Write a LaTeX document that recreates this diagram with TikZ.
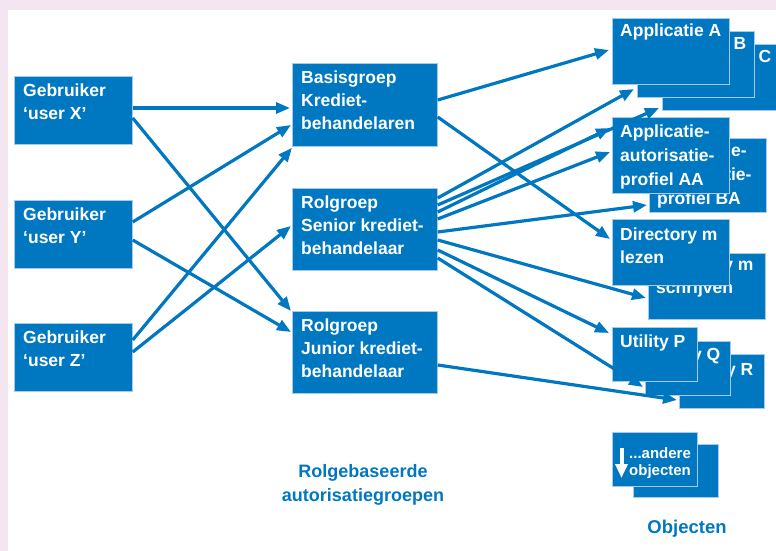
\documentclass[tikz,border=0pt]{standalone}
\usepackage{fontspec}
\setmainfont{Liberation Sans}
\usetikzlibrary{arrows.meta,calc}
\definecolor{rbblue}{RGB}{0,120,193}
\definecolor{rbedge}{RGB}{165,203,233}
\definecolor{rbpink}{RGB}{243,230,240}
\begin{document}
\begin{tikzpicture}[x=1pt,y=-1pt,
  box/.style={rectangle, fill=rbblue, draw=rbedge, line width=0.7pt, anchor=north west, inner sep=0pt},
  userbox/.style={box, minimum width=118, minimum height=68},
  groupbox/.style={box, minimum width=145, minimum height=83},
  objbox/.style={box, minimum width=117, minimum height=66},
  smallbox/.style={box, minimum width=85, minimum height=54},
  % the base anchor of a multi-line text sits on its last line
  txt/.style={anchor=base west, inner sep=0pt, align=left, text=white,
    font=\fontsize{17.5}{23}\selectfont\bfseries},
  smalltxt/.style={txt, font=\fontsize{15}{17}\selectfont\bfseries},
  heading/.style={anchor=base, inner sep=0pt, align=center, text=rbblue,
    font=\fontsize{18}{24}\selectfont\bfseries},
  arr/.style={draw=rbblue, line width=3.2pt, -{Triangle[length=14pt,width=11pt]}},
]
\useasboundingbox (0,0) rectangle (776,551);
\fill[rbpink] (0,0) rectangle (776,551);
\fill[white] (8,10) rectangle (776,551);

% users
\node[userbox] (gx) at (14,76) {};
\node[userbox] (gy) at (14,200) {};
\node[userbox] (gz) at (14,323) {};
\node[txt] (gxt) at ($(gx.north west)+(9,43)$) {Gebruiker\\‘user X’};
\node[txt] (gyt) at ($(gy.north west)+(9,43)$) {Gebruiker\\‘user Y’};
\node[txt] (gzt) at ($(gz.north west)+(9,43)$) {Gebruiker\\‘user Z’};

% role groups
\node[groupbox] (basis) at (292,63) {};
\node[groupbox, minimum height=82] (senior) at (292,188) {};
\node[groupbox, minimum height=82] (junior) at (292,311) {};
\node[txt] (basist) at ($(basis.north west)+(9,66)$) {Basisgroep\\Krediet-\\behandelaren};
\node[txt] (seniort) at ($(senior.north west)+(9,66)$) {Rolgroep\\Senior krediet-\\behandelaar};
\node[txt] (juniort) at ($(junior.north west)+(9,66)$) {Rolgroep\\Junior krediet-\\behandelaar};

% objects: applications
\node[objbox] (appC) at (662,44) {};
\node[txt] (appCt) at ($(appC.north west)+(8,19)$) {Applicatie C};
\node[objbox] (appB) at (637,31) {};
\node[txt] (appBt) at ($(appB.north west)+(8,19)$) {Applicatie B};
\node[objbox] (appA) at (612,18) {};
\node[txt] (appAt) at ($(appA.north west)+(8,19)$) {Applicatie A};

% objects: authorisation profiles
\node[objbox, minimum height=74] (autBA) at (649,138) {};
\node[txt, font=\fontsize{17.5}{24}\selectfont\bfseries] (autBAt) at ($(autBA.north west)+(8,66)$) {Applicatie-\\autorisatie-\\profiel BA};
\node[objbox, minimum height=76] (autAA) at (612,117) {};
\node[txt, font=\fontsize{17.5}{24}\selectfont\bfseries] (autAAt) at ($(autAA.north west)+(8,68)$) {Applicatie-\\autorisatie-\\profiel AA};

% objects: directory
\node[objbox] (dirS) at (648,253) {};
\node[txt] (dirSt) at ($(dirS.north west)+(8,40)$) {Directory m\\schrijven};
\node[objbox] (dirL) at (612,219) {};
\node[txt] (dirLt) at ($(dirL.north west)+(8,44)$) {Directory m\\lezen};

% objects: utilities
\node[smallbox] (utilR) at (679,354) {};
\node[txt] (utilRt) at ($(utilR.north west)+(8,21)$) {Utility R};
\node[smallbox] (utilQ) at (645,341) {};
\node[txt] (utilQt) at ($(utilQ.north west)+(8,19)$) {Utility Q};
\node[smallbox] (utilP) at (612,327) {};
\node[txt] (utilPt) at ($(utilP.north west)+(8,20)$) {Utility P};

% other objects
\node[smallbox, minimum height=53] (andereB) at (633,444) {};
\node[smallbox] (andere) at (612,432) {};
\node[smalltxt] (anderet) at ($(andere.north west)+(17,43)$) {...andere\\objecten};
\coordinate (dnA) at ($(andere.north west)+(9.5,16)$);
\coordinate (dnB) at ($(andere.north west)+(9.5,46)$);
\draw[white, line width=4pt, -{Triangle[length=14pt,width=12pt]}] (dnA) -- (dnB);

% captions
\node[heading] (capgroups) at (363,501) {Rolgebaseerde\\autorisatiegroepen};
\node[heading, font=\fontsize{18.5}{24}\selectfont\bfseries] (capobj) at (687,533) {Objecten};

% users to role groups
\draw[arr] ($(gx.north east)+(0,32)$) -- ($(basis.north west)+(-2,45)$);
\draw[arr] ($(gx.north east)+(0,42)$) -- ($(junior.north west)+(-1,0)$);
\draw[arr] ($(gy.north east)+(0,22)$) -- ($(basis.north west)+(-1,62)$);
\draw[arr] ($(gy.north east)+(0,40)$) -- ($(junior.north west)+(-1,21)$);
\draw[arr] ($(gz.north east)+(0,17)$) -- ($(basis.south west)+(0,1)$);
\draw[arr] ($(gz.north east)+(0,29)$) -- ($(senior.north west)+(-1,38)$);

% role groups to objects
\draw[arr] ($(basis.north east)+(0,37)$) -- ($(appA.north west)+(-3,32)$);
\draw[arr] ($(basis.north east)+(0,54)$) -- ($(dirL.north west)+(-2,20)$);
\draw[arr] ($(senior.north east)+(0,10)$) -- ($(appB.north west)+(-3,58)$);
\draw[arr] ($(senior.north east)+(0,17)$) -- ($(appC.north west)+(-3,64)$);
\draw[arr] ($(senior.north east)+(0,24)$) -- ($(autAA.north west)+(-2,11)$);
\draw[arr] ($(senior.north east)+(0,31)$) -- ($(autAA.north west)+(-2,35)$);
\draw[arr] ($(senior.north east)+(0,44)$) -- ($(autBA.north west)+(-2,67)$);
\draw[arr] ($(senior.north east)+(0,52)$) -- ($(dirS.north west)+(-2,45)$);
\draw[arr] ($(senior.north east)+(0,62)$) -- ($(utilP.north west)+(-3,6)$);
\draw[arr] ($(senior.north east)+(0,70)$) -- ($(utilQ.north west)+(-2,46)$);
\draw[arr] ($(junior.north east)+(0,54)$) -- ($(utilR.north west)+(-2,46)$);
\end{tikzpicture}
\end{document}
